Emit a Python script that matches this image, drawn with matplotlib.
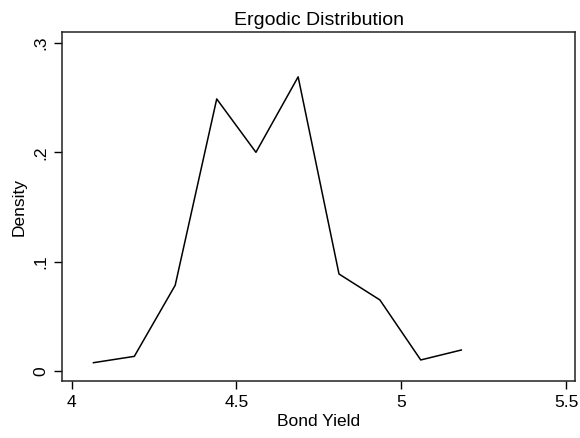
import matplotlib
matplotlib.use("Agg")
import matplotlib.pyplot as plt

plt.rcParams['font.family'] = ['Liberation Sans', 'DejaVu Sans']

# bond yield grid and ergodic density
yields = [4.066, 4.190, 4.314, 4.440, 4.559, 4.687, 4.811, 4.935, 5.059, 5.182]
density = [0.0076, 0.0134, 0.0784, 0.2488, 0.2000, 0.2690, 0.0887, 0.0650, 0.0101, 0.0192]

xticks = [4, 4.5, 5, 5.5]
xlabels = ['4', '4.5', '5', '5.5']
yticks = [0, 0.1, 0.2, 0.3]
ylabels = ['0', '.1', '.2', '.3']

fig = plt.figure(figsize=(5.8, 4.38), dpi=100)
ax = fig.add_axes([0.1069, 0.1301, 0.8845, 0.7968])

ax.plot(yields, density, color='black', lw=1.1)

ax.set_xlim(3.9706, 5.527)
ax.set_ylim(-0.00915, 0.310)
ax.set_xticks(xticks)
ax.set_xticklabels(xlabels, fontsize=12.5)
ax.set_yticks(yticks)
ax.set_yticklabels(ylabels, fontsize=12.5, rotation=90, va='center')
ax.tick_params(direction='out', length=6, width=1, pad=4)

for s in ax.spines.values():
    s.set_linewidth(1.1)
    s.set_color('#222222')

ax.set_xlabel('Bond Yield', fontsize=12.5, labelpad=3)
ax.set_ylabel('Density', fontsize=12.5, labelpad=5)
ax.set_title('Ergodic Distribution', fontsize=14, pad=5)

fig.savefig('out.png', dpi=100)
